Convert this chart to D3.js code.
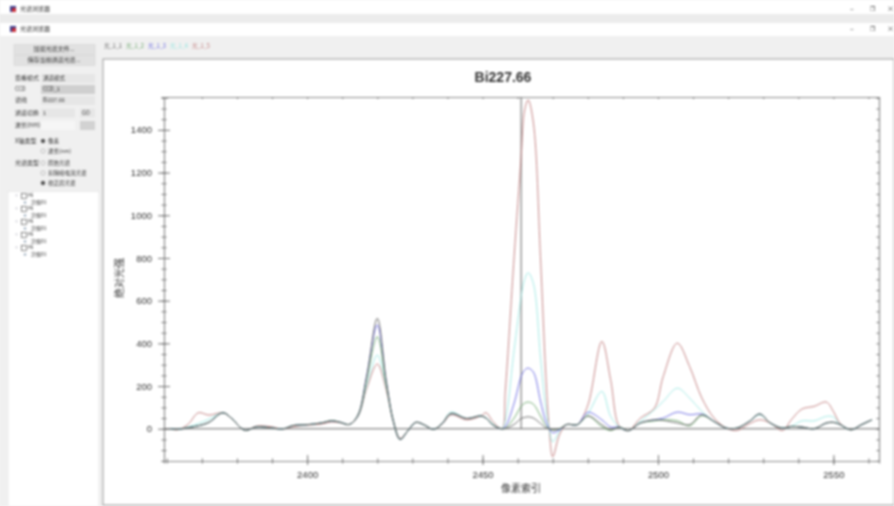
<!DOCTYPE html>
<html>
<head>
<meta charset="utf-8">
<script src="https://cdn.jsdelivr.net/npm/d3@7"></script>
<style>
  html, body { margin: 0; padding: 0; background: #f2f2f2; overflow: hidden; }
  svg { display: block; filter: blur(0.8px); }
  text { font-family: "Noto Sans CJK SC", "Liberation Sans", sans-serif; fill: #333; }
  .tick text, .plain { font-family: "Liberation Sans", sans-serif; }
</style>
</head>
<body>
<div id="chart"></div>
<script>
// values
const pixels = [2361,2363,2366,2369,2372,2376,2378.5,2381,2382.5,2385.5,2389.5,2393,2396,2400,2404,2407,2409.5,2412,2414.5,2417,2420,2422.5,2424.5,2426.5,2428.5,2431,2433.5,2436,2438.5,2441,2445.5,2449.5,2451,2453,2455.5,2456.5,2459,2461,2462,2463,2464.5,2466.5,2468,2469,2470,2472,2474,2477,2480,2484,2486.5,2489,2491.5,2495,2499,2501.5,2505.5,2509,2512.5,2516,2519.5,2522.5,2526,2529,2532,2535.5,2538,2541,2544.5,2548,2550,2552,2555,2558,2561];
const grayValues = [0,-3,5,14,30,75,48,6,-8,9,5,-1,15,19,27,37,30,20,64,245,517,228,40,-50,-14,30,17,-3,25,72,48,60,50,17,0,2,20,48,53,56,50,25,5,0,-5,0,20,19,60,19,-5,8,-9,27,42,39,27,19,66,34,3,3,34,69,27,3,11,8,0,27,30,19,-5,19,42];
const greenValues = [0,-3,5,14,30,75,48,6,-8,9,5,-1,15,19,27,38,30,20,64,235,431,215,40,-50,-14,30,17,-3,25,70,48,60,50,17,0,3,50,105,120,125,115,60,15,0,-6,0,20,19,60,10,-8,8,-9,27,37,42,37,14,61,34,3,3,34,69,27,3,11,8,0,27,30,19,-5,19,42];
const blueValues = [0,-3,5,14,30,75,48,6,-8,9,5,-1,15,19,27,37,30,20,64,250,486,226,40,-50,-14,30,17,-3,25,70,48,60,50,17,0,10,120,245,275,284,265,130,35,0,-19,-5,20,19,77,42,8,8,-9,27,42,50,78,66,69,34,3,3,34,69,27,3,11,8,0,27,30,19,-5,19,42];
const cyanValues = [0,-3,8,25,45,75,48,6,-8,9,5,-1,15,19,27,37,30,20,60,205,345,200,40,-48,-14,30,17,-3,25,78,48,60,50,22,0,40,368,619,700,731,680,337,100,0,-61,-10,20,19,70,175,58,8,-9,35,89,128,190,144,81,34,3,3,34,66,27,3,11,37,37,58,55,19,-5,19,42];
const redValues = [0,-5,20,75,64,75,48,6,-8,12,10,-1,10,17,22,32,28,20,58,190,303,185,40,-45,-14,30,17,-3,22,65,42,60,75,33,0,181,806,1275,1494,1540,1432,806,261,0,-131,-25,20,19,110,409,230,11,-9,50,97,245,401,292,144,50,3,-8,23,42,27,-8,42,92,105,125,81,23,-5,19,42];
const seriesNames = ["光_1_1", "光_1_2", "光_1_3", "光_1_4", "光_1_5"];
const seriesValues = [grayValues, greenValues, blueValues, cyanValues, redValues];
const seriesColors = ["#555555", "#5f9f5f", "#5a5ae0", "#93e6e0", "#bb6f6f"];
const xTicks = [2400, 2450, 2500, 2550];
const yTicks = [0, 200, 400, 600, 800, 1000, 1200, 1400];
const cursorPixel = 2461;

const width = 894, height = 506;
const svg = d3.select("#chart").append("svg").attr("width", width).attr("height", height);

// window chrome
svg.append("rect").attr("width", width).attr("height", height).attr("fill", "#f0f0f0");
svg.append("rect").attr("width", width).attr("height", 14).attr("fill", "#fff");
svg.append("rect").attr("y", 14).attr("width", width).attr("height", 9).attr("fill", "#ececec");
svg.append("rect").attr("y", 23).attr("width", width).attr("height", 13).attr("fill", "#fff");

function label(x, y, txt, size, anchor) {
  return svg.append("text").attr("x", x).attr("y", y).attr("font-size", size || 6)
    .attr("text-anchor", anchor || "start").attr("dominant-baseline", "middle").text(txt);
}

[9, 29].forEach(y => {
  svg.append("rect").attr("x", 10).attr("y", y - 3).attr("width", 6).attr("height", 6).attr("fill", "#3a3f8f");
  svg.append("rect").attr("x", 12).attr("y", y - 1).attr("width", 4).attr("height", 4).attr("fill", "#c8303a");
  label(20, y, "光谱浏览器", 6);
  label(850, y, "–", 7);
  label(870, y, "❐", 6);
  label(887, y, "×", 7);
});

// left panel
function button(y, txt) {
  svg.append("rect").attr("x", 14).attr("y", y).attr("width", 81).attr("height", 10)
    .attr("fill", "#e1e1e1").attr("stroke", "#cfcfcf").attr("stroke-width", 0.5);
  label(54, y + 5, txt, 6, "middle");
}
button(44.5, "加载光谱文件...");
button(55.5, "保存当前通道光谱...");

function combo(y, x, w, txt, disabled) {
  svg.append("rect").attr("x", x).attr("y", y - 4.5).attr("width", w).attr("height", 9)
    .attr("fill", disabled ? "#cfcfcf" : "#e6e6e6");
  label(x + 2, y, txt, 5.5);
}
label(15, 78.5, "查看模式", 6); combo(78.5, 41, 54, "通道模式");
label(15, 89.5, "CCD", 5.5); combo(89.5, 41, 54, "CCD_1", true);
label(15, 100.5, "谱线", 6); combo(100.5, 41, 54, "Bi227.66");
label(15, 113, "通道切换", 6); combo(113, 41, 34, "1"); combo(113, 80, 15, " GO");
label(15, 125.5, "波长(nm)", 6);
svg.append("rect").attr("x", 41).attr("y", 121).attr("width", 34).attr("height", 9).attr("fill", "#f6f6f6");
svg.append("rect").attr("x", 80).attr("y", 121).attr("width", 15).attr("height", 9).attr("fill", "#d2d2d2");

function radio(y, txt, on) {
  svg.append("circle").attr("cx", 43).attr("cy", y).attr("r", 2)
    .attr("fill", on ? "#444" : "#fff").attr("stroke", "#777").attr("stroke-width", 0.5);
  label(48, y, txt, 5.5);
}
label(15, 141, "X轴类型", 6);
radio(141, "像素", true);
radio(151, "波长(nm)");
label(15, 163, "光谱类型", 6);
radio(163, "原始光谱");
radio(173, "扣除暗电流光谱");
radio(183, "校正后光谱", true);

// channel tree
svg.append("rect").attr("x", 8).attr("y", 191.5).attr("width", 91).attr("height", 315).attr("fill", "#fff")
  .attr("stroke", "#ddd").attr("stroke-width", 0.5);
[196, 209, 222, 235, 248].forEach(y => {
  svg.append("rect").attr("x", 21.5).attr("y", y - 2.5).attr("width", 5).attr("height", 5)
    .attr("fill", "#fff").attr("stroke", "#555").attr("stroke-width", 0.7);
  label(15, y, "+", 5).style("fill", "#99a");
  label(28, y, "Mi", 5);
  svg.append("circle").attr("cx", 25).attr("cy", y + 6.5).attr("r", 1.2).attr("fill", "#9ab");
  label(31, y + 6.5, "次级01", 5);
});

// chart pane
svg.append("rect").attr("x", 103).attr("y", 59).attr("width", 791).attr("height", 446)
  .attr("fill", "#fff").attr("stroke", "#999").attr("stroke-width", 1);

// legend strip
seriesNames.forEach((name, i) => {
  label(104 + i * 22, 46, name, 5.5).style("fill", seriesColors[i]);
});

// plot
const x = d3.scaleLinear().domain([2359.2, 2563]).range([164, 879]);
const y = d3.scaleLinear().domain([-151, 1554]).range([461, 97]);
const minorX = d3.range(2360, 2563, 10);
const minorY = d3.range(-150, 1554, 50);

const chart = svg.append("g");

function styleAxis(g) {
  g.select(".domain").attr("stroke", "#8a8a8a").attr("stroke-width", 1.2);
  g.selectAll(".tick line").attr("stroke", "#777");
  g.selectAll(".tick text").attr("font-size", 9.5);
}

// minor ticks first, majors on top
chart.append("g").attr("transform", `translate(0,${y.range()[0]})`)
  .call(d3.axisBottom(x).tickValues(minorX).tickSize(2.5).tickFormat(""))
  .call(styleAxis)
  .call(g => g.selectAll(".tick line").attr("y1", -2.5));
chart.append("g").attr("transform", `translate(${x.range()[0]},0)`)
  .call(d3.axisLeft(y).tickValues(minorY).tickSize(2.5).tickFormat(""))
  .call(styleAxis)
  .call(g => g.selectAll(".tick line").attr("x1", 2.5));
chart.append("g").attr("transform", `translate(0,${y.range()[0]})`)
  .call(d3.axisBottom(x).tickValues(xTicks).tickSize(4).tickPadding(6).tickFormat(d3.format("d")))
  .call(styleAxis)
  .call(g => g.select(".domain").remove())
  .call(g => g.selectAll(".tick line").attr("y1", -6));
chart.append("g").attr("transform", `translate(${x.range()[0]},0)`)
  .call(d3.axisLeft(y).tickValues(yTicks).tickSize(6).tickPadding(6).tickFormat(d3.format("d")))
  .call(styleAxis)
  .call(g => g.select(".domain").remove())
  .call(g => g.selectAll(".tick line").attr("x1", 6));
chart.append("g").attr("transform", `translate(0,${y.range()[1]})`)
  .call(d3.axisTop(x).tickValues(minorX).tickSize(-2).tickFormat(""))
  .call(styleAxis);
chart.append("g").attr("transform", `translate(${x.range()[1]},0)`)
  .call(d3.axisRight(y).tickValues(minorY).tickSize(-2.5).tickFormat(""))
  .call(styleAxis);

// zero line and cursor
chart.append("line").attr("x1", x.range()[0]).attr("x2", x.range()[1])
  .attr("y1", y(0)).attr("y2", y(0)).attr("stroke", "#666").attr("stroke-width", 1);
chart.append("line").attr("x1", x(cursorPixel)).attr("x2", x(cursorPixel))
  .attr("y1", y.range()[1]).attr("y2", y(0)).attr("stroke", "#666").attr("stroke-width", 1);

const line = d3.line().x((d, i) => x(pixels[i])).y(d => y(d)).curve(d3.curveCatmullRom.alpha(0.5));

// red first so the near-coincident traces sit on top, as in the picture
[4, 3, 2, 1, 0].forEach(i => {
  chart.append("path").datum(seriesValues[i])
    .attr("fill", "none").attr("stroke", seriesColors[i]).attr("stroke-width", 0.85)
    .attr("d", line);
});

svg.append("text").attr("class", "plain").attr("x", 503).attr("y", 78).attr("text-anchor", "middle").attr("dominant-baseline", "middle")
  .attr("font-size", 14).attr("font-weight", "bold").text("Bi227.66");
label(521, 489, "像素索引", 10, "middle");
svg.append("text").attr("transform", "translate(120,278) rotate(-90)").attr("text-anchor", "middle")
  .attr("dominant-baseline", "middle").attr("font-size", 10).text("绝对光强");
</script>
</body>
</html>
